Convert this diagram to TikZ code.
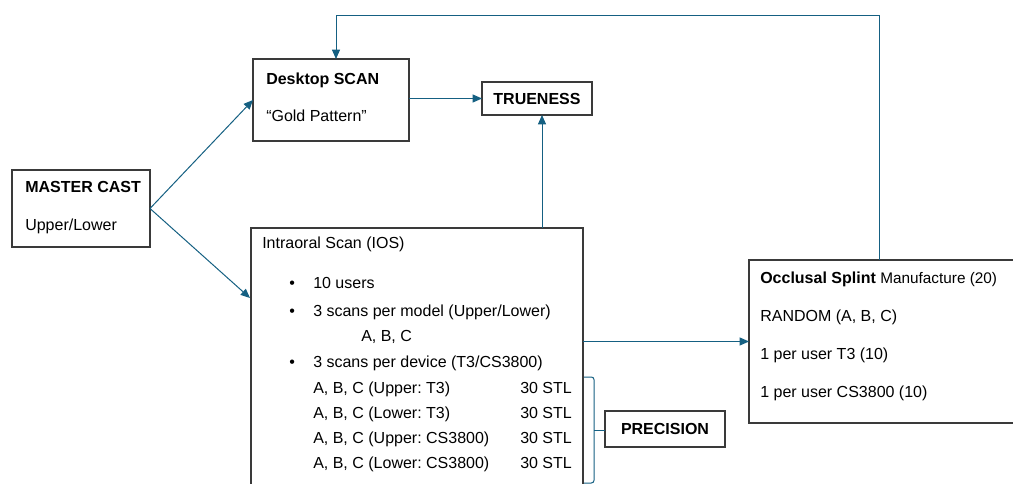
\documentclass[tikz,border=0pt]{standalone}
\usepackage{fontspec}
\setmainfont{Liberation Sans}
\usetikzlibrary{arrows.meta,fit,calc}
\definecolor{flowblue}{HTML}{156082}
\definecolor{boxgray}{HTML}{3A3A3A}
\frenchspacing

\begin{document}
\begin{tikzpicture}[x=.75pt,y=-.75pt,
  box/.style={draw=boxgray,line width=.9pt,inner sep=0pt,outer sep=0pt},
  link/.style={draw=flowblue,line width=.75pt,-{Triangle[length=7pt,width=6pt]}},
  wire/.style={draw=flowblue,line width=.75pt},
  txt/.style={anchor=base west,inner sep=0pt,font=\fontsize{12}{14}\selectfont},
  head/.style={txt,font=\bfseries\fontsize{12}{14}\selectfont}]
\path[use as bounding box] (0,0) rectangle (1013,484);

% boxes
\node[box,fit={(12,170) (150,247)}] (cast) {};
\node[box,fit={(253,59) (409,141)}] (desk) {};
\node[box,fit={(482,82) (592,115)}] (true) {};
\node[box,fit={(251,228) (583,500)}] (ios) {};
\node[box,fit={(749,260) (1030,423)}] (occl) {};
\node[box,fit={(605,411) (725,447)}] (prec) {};

% texts
\node[head] (castT) at (25,193) {MASTER CAST};
\node[txt] (castS) at (25,231) {Upper/Lower};
\node[head] (deskT) at (266,85) {Desktop SCAN};
\node[txt] (deskS) at (266,122) {“Gold Pattern”};
\node[head,anchor=center] (trueT) at (true.center) {TRUENESS};
\node[head,anchor=center] (precT) at (prec.center) {PRECISION};

\node[txt] (iosT) at (262,249) {Intraoral Scan (IOS)};
\node[txt] (dot1) at (289,289) {\textbullet};
\node[txt] (item1) at (313,289) {10 users};
\node[txt] (dot2) at (289,317) {\textbullet};
\node[txt] (item2) at (313,317) {3 scans per model (Upper/Lower)};
\node[txt] (item2a) at (361,342) {A, B, C};
\node[txt] (dot3) at (289,368) {\textbullet};
\node[txt] (item3) at (313,368) {3 scans per device (T3/CS3800)};
\foreach \lbl [count=\i] in {Upper: T3,Lower: T3,Upper: CS3800,Lower: CS3800} {
  \node[txt] (row\i) at (313,368+25*\i) {A, B, C (\lbl)};
  \node[txt] (stl\i) at (520,368+25*\i) {30 STL};
}

\node[txt] (occT) at (760,284) {\textbf{Occlusal Splint} {\fontsize{11.5}{13}\selectfont Manufacture (20)}};
\node[txt] (occ1) at (760,322) {RANDOM (A, B, C)};
\node[txt] (occ2) at (760,359) {1 per user T3 (10)};
\node[txt] (occ3) at (760,397) {1 per user CS3800 (10)};

% connectors
\coordinate (iosin) at (250,298);
\coordinate (top) at (336,16);
\coordinate (back) at (879,16);
\coordinate (brc) at (594,430);
\draw[link] (cast.east) -- (desk.west);
\draw[link] (cast.east) -- (iosin);
\draw[link] (desk.east |- true.west) -- (true.west);
\draw[link] (ios.north -| 542,0) -- (true.south -| 542,0);
\draw[link] (ios.east |- occl.west) -- (occl.west);
\draw[link] (occl.north -| back) -- (back) -- (top) -- (top |- desk.north);
\draw[wire,rounded corners=2pt] (584,377) -- (594,377) -- (594,483) -- (584,483);
\draw[wire] (brc) -- (brc -| prec.west);
\end{tikzpicture}
\end{document}
